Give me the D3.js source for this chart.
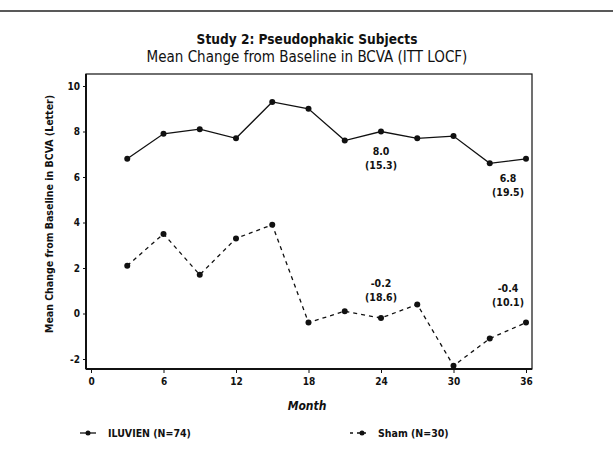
<!DOCTYPE html>
<html><head><meta charset="utf-8">
<script src="https://cdn.jsdelivr.net/npm/d3@7"></script>
<style>body{margin:0;background:#fff}svg{display:block}text{font-family:"DejaVu Sans Condensed","Liberation Sans Narrow","Liberation Sans",sans-serif;fill:#111}</style>
</head><body>
<script>
const months = [3,6,9,12,15,18,21,24,27,30,33,36];
const iluvien = [6.8,7.9,8.1,7.7,9.3,9.0,7.6,8.0,7.7,7.8,6.6,6.8];
const sham = [2.1,3.5,1.7,3.3,3.9,-0.4,0.1,-0.2,0.4,-2.3,-1.1,-0.4];
const xTicks = [0,6,12,18,24,30,36];
const yTicks = [-2,0,2,4,6,8,10];
const annotations = [
  {m:24, v:8.0, sd:"(15.3)", s:"iluvien"},
  {m:36, v:6.8, sd:"(19.5)", s:"iluvien"},
  {m:24, v:-0.2, sd:"(18.6)", s:"sham"},
  {m:36, v:-0.4, sd:"(10.1)", s:"sham"}
];
const seriesNames = ["ILUVIEN (N=74)","Sham (N=30)"];

const W=613,H=459;
const svg=d3.select("body").append("svg").attr("width",W).attr("height",H);
const L=86,R=532,T=74,B=369;
const x=d3.scaleLinear().domain([0,36]).range([91,526]);
const y=d3.scaleLinear().domain([-2,10]).range([359,86]);
const fmt=v=>String(v);

// top rule
svg.append("line").attr("x1",0).attr("x2",W).attr("y1",11).attr("y2",11).attr("stroke","#222").attr("stroke-width",1.5);

// titles
svg.append("text").attr("x",307).attr("y",44).attr("text-anchor","middle").attr("font-size",13.6).attr("font-weight","bold").text("Study 2: Pseudophakic Subjects");
svg.append("text").attr("x",307).attr("y",62).attr("text-anchor","middle").attr("font-size",15).text("Mean Change from Baseline in BCVA (ITT LOCF)");

// frame
svg.append("rect").attr("x",L).attr("y",T).attr("width",R-L).attr("height",B-T).attr("fill","none").attr("stroke","#111").attr("stroke-width",1.2);
svg.append("line").attr("x1",L).attr("x2",L).attr("y1",T).attr("y2",B).attr("stroke","#111").attr("stroke-width",2);
svg.append("line").attr("x1",L).attr("x2",R).attr("y1",B).attr("y2",B).attr("stroke","#111").attr("stroke-width",2);

// x axis
const gx=svg.append("g").attr("transform",`translate(0,${B})`);
gx.call(d3.axisBottom(x).tickValues(d3.range(0,37,1)).tickSize(2).tickFormat(""));
gx.call(d3.axisBottom(x).tickValues(xTicks).tickSize(4).tickFormat(fmt));
gx.selectAll(".domain").remove();
gx.selectAll("text").attr("font-size",10).attr("font-weight","bold").attr("dy","0.85em");
gx.selectAll("line").attr("stroke","#111");

// y axis
const gy=svg.append("g").attr("transform",`translate(${L},0)`);
gy.call(d3.axisLeft(y).tickValues(yTicks).tickSize(3).tickFormat(fmt));
gy.selectAll(".domain").remove();
gy.selectAll("text").attr("font-size",10).attr("font-weight","bold");
gy.selectAll("line").attr("stroke","#111");

// axis titles
svg.append("text").attr("transform","translate(53,214) rotate(-90)").attr("text-anchor","middle").attr("font-size",10.5).attr("font-weight","bold").text("Mean Change from Baseline in BCVA (Letter)");
svg.append("text").attr("x",307).attr("y",410).attr("text-anchor","middle").attr("font-size",12).attr("font-weight","bold").attr("font-style","italic").text("Month");

// lines
const line=d3.line().x(d=>x(d[0])).y(d=>y(d[1]));
const series=[
  {name:"iluvien",vals:iluvien,dash:null},
  {name:"sham",vals:sham,dash:"4,4"}
];
series.forEach(s=>{
  const pts=months.map((m,i)=>[m,s.vals[i]]);
  svg.append("path").datum(pts).attr("d",line).attr("fill","none").attr("stroke","#111").attr("stroke-width",1.3).attr("stroke-dasharray",s.dash);
  svg.selectAll(null).data(pts).enter().append("circle").attr("cx",d=>x(d[0])).attr("cy",d=>y(d[1])).attr("r",3).attr("fill","#111");
});

// annotations
annotations.forEach(a=>{
  const cx=x(a.m)+(a.m===36?-18:0);
  const cy=y(a.v)+(a.s==="iluvien"?23:-31);
  const t=svg.append("text").attr("text-anchor","middle").attr("font-size",10.5).attr("font-weight","bold");
  t.append("tspan").attr("x",cx).attr("y",cy).text(a.v.toFixed(1));
  t.append("tspan").attr("x",cx).attr("y",cy+14).text(a.sd);
});

// legend
const lg=[{x:80,dash:null,name:seriesNames[0]},{x:350,dash:"4,4",name:seriesNames[1]}];
lg.forEach(l=>{
  svg.append("line").attr("x1",l.x).attr("x2",l.x+16).attr("y1",433).attr("y2",433).attr("stroke","#111").attr("stroke-width",1.3).attr("stroke-dasharray",l.dash?"3,4":null);
  svg.append("circle").attr("cx",l.x+(l.dash?12:8)).attr("cy",433).attr("r",2.5).attr("fill","#111");
  svg.append("text").attr("x",l.x+28).attr("y",437).attr("font-size",10.5).attr("font-weight","bold").text(l.name);
});
</script>
</body></html>
